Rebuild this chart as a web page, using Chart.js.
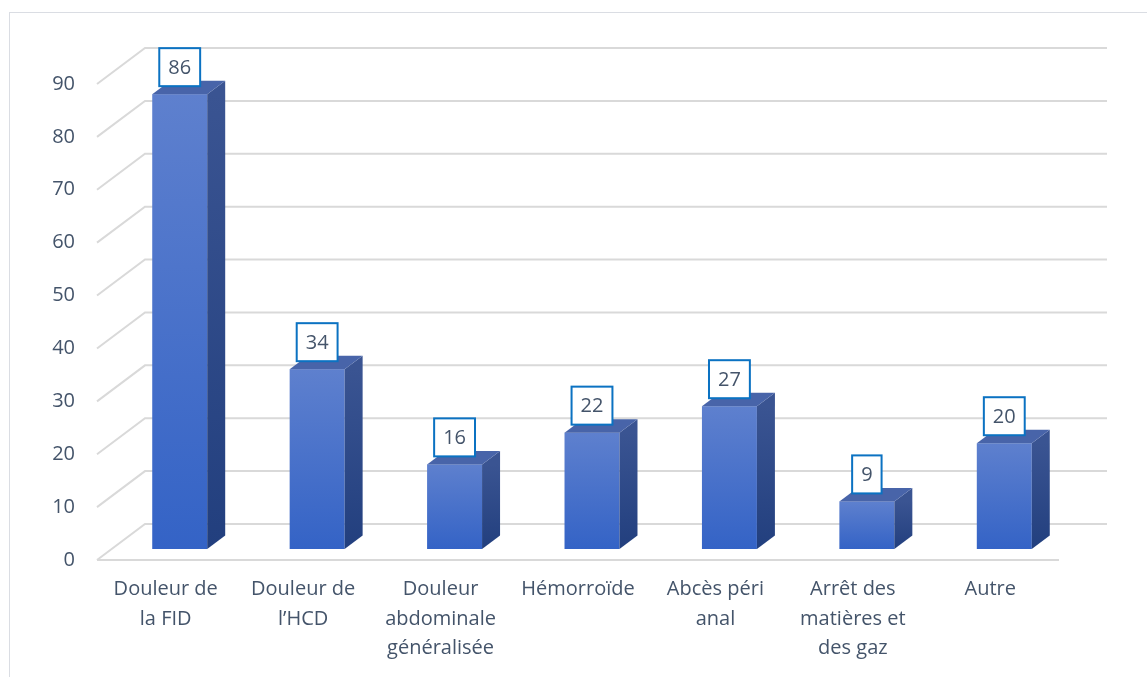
<!DOCTYPE html>
<html>
<head>
<meta charset="utf-8">
<script src="https://cdn.jsdelivr.net/npm/chart.js@4/dist/chart.umd.min.js"></script>
<style>
  html, body { margin: 0; padding: 0; background: #fff; }
  #wrap { width: 1147px; height: 677px; position: relative; }
</style>
</head>
<body>
<div id="wrap"><canvas id="chart" width="1147" height="677"></canvas></div>
<script>
// categories and counts
const categories = [
    ['Douleur de', 'la FID'],
    ['Douleur de', 'l\u2019HCD'],
    ['Douleur', 'abdominale', 'généralisée'],
    ['Hémorroïde'],
    ['Abcès péri', 'anal'],
    ['Arrêt des', 'matières et', 'des gaz'],
    ['Autre']
];
const counts = [86, 34, 16, 22, 27, 9, 20];
const yTicks = [0, 10, 20, 30, 40, 50, 60, 70, 80, 90];

const textColor = '#44546A';
const fontFamily = '"Open Sans", sans-serif';

// 3d offsets: back wall, bar front face inside the floor, bar depth
const wallDx = 48, wallDy = -36;
const barDx = 14, barDy = -11;
const depthDx = 18, depthDy = -13.5;

// border, walls and gridlines
const wallPlugin = {
    id: 'wall',
    beforeDatasetsDraw(chart) {
        const ctx = chart.ctx;
        const area = chart.chartArea;
        const y = chart.scales.y;
        ctx.save();
        ctx.strokeStyle = '#DADDE3';
        ctx.lineWidth = 1;
        ctx.strokeRect(9.5, 12.5, 1300, 800);

        ctx.strokeStyle = '#D9D9D9';
        ctx.lineWidth = 2;
        yTicks.forEach(t => {
            const py = y.getPixelForValue(t);
            ctx.beginPath();
            ctx.moveTo(area.left, py);
            ctx.lineTo(area.left + wallDx, py + wallDy);
            ctx.lineTo(area.right + wallDx, py + wallDy);
            ctx.stroke();
        });
        // floor front edge
        const p0 = y.getPixelForValue(0);
        ctx.beginPath();
        ctx.moveTo(area.left, p0);
        ctx.lineTo(area.right, p0);
        ctx.stroke();
        ctx.restore();
    }
};

// bars as boxes with a front, top and side face
const boxPlugin = {
    id: 'box',
    afterDatasetsDraw(chart) {
        const ctx = chart.ctx;
        const meta = chart.getDatasetMeta(0);
        ctx.save();
        meta.data.forEach((bar, i) => {
            const l = bar.x - bar.width / 2 + barDx;
            const r = bar.x + bar.width / 2 + barDx;
            const t = bar.y + barDy;
            const b = bar.base + barDy;

            const front = ctx.createLinearGradient(0, t, 0, b);
            front.addColorStop(0, '#5E80CE');
            front.addColorStop(1, '#3463C6');
            ctx.fillStyle = front;
            ctx.fillRect(l, t, r - l, b - t);

            const side = ctx.createLinearGradient(0, t, 0, b);
            side.addColorStop(0, '#3A5492');
            side.addColorStop(1, '#223F7E');
            ctx.fillStyle = side;
            ctx.beginPath();
            ctx.moveTo(r, t);
            ctx.lineTo(r + depthDx, t + depthDy);
            ctx.lineTo(r + depthDx, b + depthDy);
            ctx.lineTo(r, b);
            ctx.closePath();
            ctx.fill();

            ctx.fillStyle = '#4864A9';
            ctx.beginPath();
            ctx.moveTo(l, t);
            ctx.lineTo(l + depthDx, t + depthDy);
            ctx.lineTo(r + depthDx, t + depthDy);
            ctx.lineTo(r, t);
            ctx.closePath();
            ctx.fill();

            // value label box
            const txt = String(counts[i]);
            ctx.font = '20px ' + fontFamily;
            const tw = ctx.measureText(txt).width;
            const bw = tw + 18, bh = 38;
            const cx = (l + r) / 2;
            const by = t - 8 - bh;
            ctx.fillStyle = '#fff';
            ctx.fillRect(cx - bw / 2, by, bw, bh);
            ctx.strokeStyle = '#0B72C2';
            ctx.lineWidth = 2;
            ctx.strokeRect(cx - bw / 2, by, bw, bh);
            ctx.fillStyle = textColor;
            ctx.textAlign = 'center';
            ctx.textBaseline = 'middle';
            ctx.fillText(txt, cx, by + bh / 2 + 1);
        });
        ctx.restore();
    }
};

new Chart(document.getElementById('chart'), {
    type: 'bar',
    data: {
        labels: categories,
        datasets: [{
            data: counts,
            backgroundColor: 'rgba(0,0,0,0)',
            barPercentage: 0.4,
            categoryPercentage: 1
        }]
    },
    options: {
        responsive: false,
        animation: false,
        layout: {
            padding: { top: 84, right: 88, left: 0, bottom: 0 }
        },
        scales: {
            x: {
                grid: { display: false, drawTicks: false },
                border: { display: false },
                ticks: {
                    color: textColor,
                    padding: 15,
                    maxRotation: 0,
                    autoSkip: false,
                    font: { family: fontFamily, size: 20, lineHeight: '29.5px' }
                },
                afterFit(scale) { scale.height = 117; }
            },
            y: {
                min: 0,
                max: 90,
                grid: { display: false, drawTicks: false },
                border: { display: false },
                ticks: {
                    stepSize: 10,
                    color: textColor,
                    padding: 22,
                    font: { family: fontFamily, size: 20 }
                },
                afterFit(scale) { scale.width = 97; }
            }
        },
        plugins: {
            legend: { display: false },
            tooltip: { enabled: false }
        }
    },
    plugins: [wallPlugin, boxPlugin]
});
</script>
</body>
</html>
